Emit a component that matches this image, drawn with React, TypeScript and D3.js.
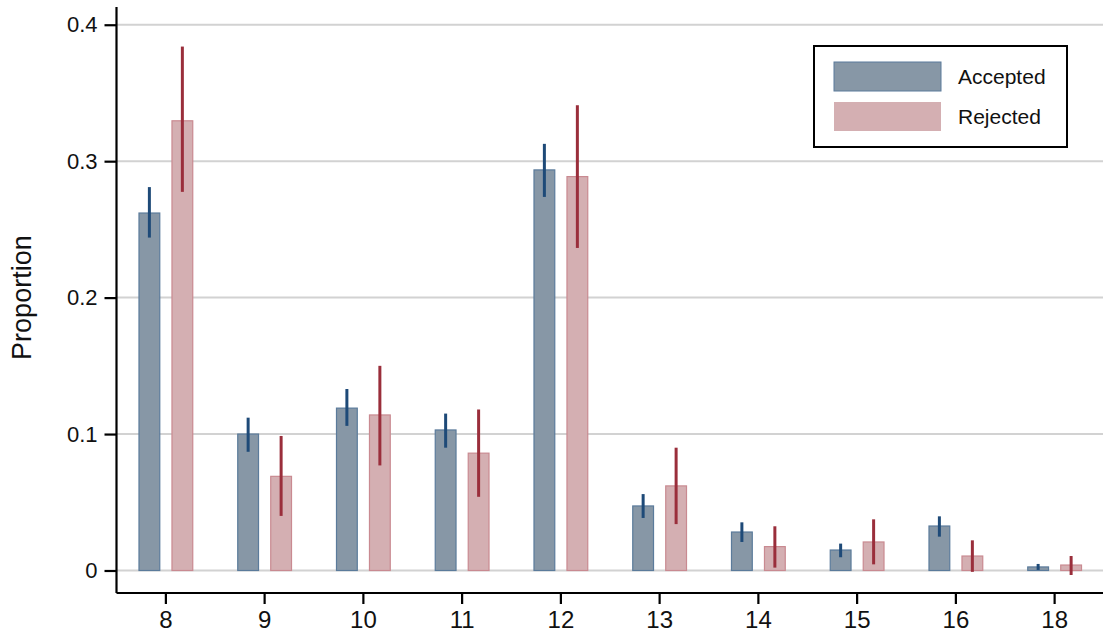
import * as d3 from 'd3';
import { useEffect, useRef } from 'react';

// Years of schooling categories and proportions
const categories = ['8', '9', '10', '11', '12', '13', '14', '15', '16', '18'];
const seriesNames = ['Accepted', 'Rejected'];

const accepted = [0.262, 0.1, 0.119, 0.103, 0.2936, 0.0473, 0.0282, 0.015, 0.0326, 0.0026];
const acceptedLo = [0.244, 0.087, 0.106, 0.09, 0.2738, 0.0385, 0.0209, 0.0097, 0.0248, 0.0004];
const acceptedHi = [0.281, 0.112, 0.133, 0.115, 0.3127, 0.056, 0.0353, 0.0197, 0.0397, 0.0048];

const rejected = [0.3296, 0.069, 0.114, 0.086, 0.2887, 0.062, 0.0175, 0.0209, 0.0106, 0.004];
const rejectedLo = [0.2775, 0.04, 0.077, 0.054, 0.2364, 0.034, 0.0021, 0.0045, -0.001, -0.0033];
const rejectedHi = [0.384, 0.0986, 0.15, 0.118, 0.341, 0.09, 0.0324, 0.0375, 0.0221, 0.0106];

const yTicks = [0, 0.1, 0.2, 0.3, 0.4];

const WIDTH = 1103;
const HEIGHT = 636;
const FONT = '"Liberation Sans", Arial, Helvetica, sans-serif';

const colors = {
  Accepted: { fill: '#8797a6', stroke: '#5b7b9b', err: '#1e4a78' },
  Rejected: { fill: '#d4afb2', stroke: '#c98a91', err: '#9a2e3b' },
};

const App = () => {
  const svgRef = useRef(null);

  useEffect(() => {
    const svg = d3.select(svgRef.current);
    svg.selectAll('*').remove();

    const left = 116.5;
    const right = 1104;
    const axisY = 593;

    // scales
    const x = d3.scaleBand().domain(categories).range([left, right]).padding(0);
    const x1 = d3.scaleBand()
      .domain(seriesNames)
      .range([0, x.bandwidth()])
      .paddingInner(0.37)
      .paddingOuter(0.682);

    const y = d3.scaleLinear().domain([-0.0165, 0.413]).range([axisY, 7]);

    // gridlines
    svg.append('g')
      .selectAll('line')
      .data(yTicks)
      .enter()
      .append('line')
      .attr('x1', left)
      .attr('x2', WIDTH)
      .attr('y1', d => y(d))
      .attr('y2', d => y(d))
      .attr('stroke', '#d2d2d2')
      .attr('stroke-width', 2);

    const rows = categories.map((c, i) => ({
      cat: c,
      vals: [
        { name: 'Accepted', v: accepted[i], lo: acceptedLo[i], hi: acceptedHi[i] },
        { name: 'Rejected', v: rejected[i], lo: rejectedLo[i], hi: rejectedHi[i] },
      ],
    }));

    const groups = svg.append('g')
      .selectAll('g')
      .data(rows)
      .enter()
      .append('g')
      .attr('transform', d => `translate(${x(d.cat)},0)`);

    // bars
    groups.selectAll('rect')
      .data(d => d.vals)
      .enter()
      .append('rect')
      .attr('x', d => x1(d.name))
      .attr('y', d => y(d.v))
      .attr('width', x1.bandwidth())
      .attr('height', d => y(0) - y(d.v))
      .attr('fill', d => colors[d.name].fill)
      .attr('stroke', d => colors[d.name].stroke)
      .attr('stroke-width', 1.2);

    // confidence intervals
    groups.selectAll('line.err')
      .data(d => d.vals)
      .enter()
      .append('line')
      .attr('class', 'err')
      .attr('x1', d => x1(d.name) + x1.bandwidth() / 2)
      .attr('x2', d => x1(d.name) + x1.bandwidth() / 2)
      .attr('y1', d => y(d.lo))
      .attr('y2', d => y(d.hi))
      .attr('stroke', d => colors[d.name].err)
      .attr('stroke-width', 3);

    // y axis
    const yAxis = d3.axisLeft(y)
      .tickValues(yTicks)
      .tickFormat(d => (d === 0 ? '0' : d3.format('.1f')(d)))
      .tickSize(12)
      .tickPadding(7);
    const gy = svg.append('g')
      .attr('transform', `translate(${left},0)`)
      .call(yAxis);
    gy.select('.domain')
      .attr('d', `M0,${y.range()[0]}V${y.range()[1]}`)
      .attr('stroke', '#000')
      .attr('stroke-width', 2.2);
    gy.selectAll('.tick line').attr('stroke', '#000').attr('stroke-width', 2.2);
    gy.selectAll('.tick text')
      .attr('font-family', FONT)
      .attr('font-size', 22)
      .attr('fill', '#111');

    // x axis
    const xAxis = d3.axisBottom(x).tickSize(11).tickPadding(7);
    const gx = svg.append('g')
      .attr('transform', `translate(0,${axisY})`)
      .call(xAxis);
    gx.select('.domain')
      .attr('d', `M${left},0H${right}`)
      .attr('stroke', '#000')
      .attr('stroke-width', 2.2);
    gx.selectAll('.tick line').attr('stroke', '#000').attr('stroke-width', 2.2);
    gx.selectAll('.tick text')
      .attr('font-family', FONT)
      .attr('font-size', 24)
      .attr('fill', '#111');

    // y axis title
    svg.append('text')
      .attr('transform', `translate(31,${y(0.2)}) rotate(-90)`)
      .attr('text-anchor', 'middle')
      .attr('font-family', FONT)
      .attr('font-size', 27)
      .attr('fill', '#111')
      .text('Proportion');

    // legend
    const legend = svg.append('g');
    legend.append('rect')
      .attr('x', 814)
      .attr('y', 46)
      .attr('width', 253)
      .attr('height', 101)
      .attr('fill', '#fff')
      .attr('stroke', '#000')
      .attr('stroke-width', 2);

    const items = legend.selectAll('g.item')
      .data(seriesNames)
      .enter()
      .append('g')
      .attr('class', 'item')
      .attr('transform', (d, i) => `translate(0,${62 + i * 40})`);

    items.append('rect')
      .attr('x', 834)
      .attr('y', 0)
      .attr('width', 107)
      .attr('height', 29)
      .attr('fill', d => colors[d].fill)
      .attr('stroke', d => (d === 'Accepted' ? colors[d].stroke : 'none'))
      .attr('stroke-width', 1);

    items.append('text')
      .attr('x', 958)
      .attr('y', 22)
      .attr('font-family', FONT)
      .attr('font-size', 21)
      .attr('fill', '#111')
      .text(d => d);
  }, []);

  return (
    <svg
      ref={svgRef}
      width={WIDTH}
      height={HEIGHT}
      style={{ position: 'absolute', left: 0, top: 0, background: '#fff' }}
    ></svg>
  );
};

export default App;
